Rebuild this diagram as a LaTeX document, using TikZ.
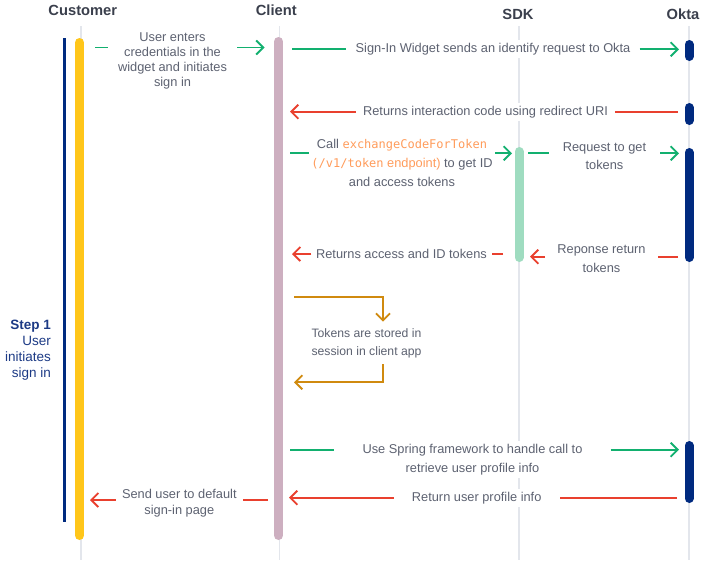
\documentclass[tikz,border=0pt]{standalone}
\usepackage{fontspec}
\setmainfont{Liberation Sans}
\setmonofont{DejaVu Sans Mono}
\usepackage{xcolor}
\usepackage{tikz}
\usetikzlibrary{arrows.meta}
\definecolor{ink}{HTML}{5D6271}
\definecolor{head}{HTML}{3A3F4C}
\definecolor{navy}{HTML}{002A7F}
\definecolor{stepc}{HTML}{1C3A85}
\definecolor{gold}{HTML}{FFC61A}
\definecolor{mauve}{HTML}{CDAFC0}
\definecolor{mint}{HTML}{9FDCC0}
\definecolor{lifec}{HTML}{E3E6EC}
\definecolor{go}{HTML}{12B06F}
\definecolor{back}{HTML}{E9402E}
\definecolor{loopc}{HTML}{D08A0F}
\definecolor{code}{HTML}{FF9C5B}
\newcommand{\cdtxt}[1]{\textcolor{code}{\ttfamily\fontsize{12}{17}\selectfont #1}}
\tikzset{
  actor/.style={text=head, font=\fontsize{14.7}{17}\selectfont\bfseries, inner sep=0pt},
  lifel/.style={draw=lifec, line width=1.8pt},
  bar/.style={line width=9pt, line cap=round},
  msg/.style={text=ink, font=\fontsize{12.8}{17}\selectfont, align=center, fill=white, inner ysep=3pt},
  stepn/.style={text=stepc, font=\fontsize{13.5}{15.8}\selectfont, align=right, inner sep=0pt},
  tip/.style={-{Straight Barb[length=7pt,width=14pt]}},
  req/.style={draw=go, line width=1.9pt},
  res/.style={draw=back, line width=1.9pt},
  own/.style={draw=loopc, line width=1.9pt},
}

\begin{document}
\begin{tikzpicture}[x=1pt,y=-1pt]
  \useasboundingbox (0,0) rectangle (725,560);
  % lifelines and headers
  \foreach \N/\x/\T/\hx/\hy in {cu/80.7/Customer/82.8/10, cl/279.5/Client/276.3/10,
                                sd/519/SDK/518/14, ok/689/Okta/683/14} {
    \node[actor] (\N) at (\hx,\hy) {\T};
    \coordinate (\N l) at (\x,26);
    \draw[lifel] (\N l) -- (\x,560);
  }
  % activation bars
  \foreach \x/\a/\b/\c in {79.5/38/540/gold, 278.5/37/540/mauve, 519/147/262/mint,
                           689/40/61/navy, 689/103/125/navy, 689/148/262/navy, 689/441/503/navy}
    \draw[bar, draw=\c] (\x,\a+4.5) -- (\x,\b-4.5);
  % step
  \draw[draw=navy, line width=3pt] (64,38) -- (64,522);
  \node[stepn, anchor=east] (step) at (51,350.2) {\textbf{Step 1}\\User\\initiates\\sign in};

  % user -> client
  \coordinate (a1) at (95,47.5);
  \coordinate (b1) at (264.5,47.5);
  \node[msg, inner xsep=10pt, font={\fontsize{12.8}{15}\selectfont}] (t1) at (172.5,60.8)
    {User enters\\credentials in the\\widget and initiates\\sign in};
  \draw[req] (a1) -- (a1 -| t1.west);
  \draw[req, tip] (b1 -| t1.east) -- (b1);

  % client -> okta
  \coordinate (a2) at (292,49.3);
  \coordinate (b2) at (679,49.3);
  \node[msg, inner xsep=9pt] (t2) at (493,49.3) {Sign-In Widget sends an identify request to Okta};
  \draw[req] (a2) -- (a2 -| t2.west);
  \draw[req, tip] (b2 -| t2.east) -- (b2);

  % okta -> client
  \coordinate (a3) at (678,111.7);
  \coordinate (b3) at (290,111.7);
  \node[msg, inner xsep=7pt] (t3) at (485.5,111.7) {Returns interaction code using redirect URI};
  \draw[res] (a3) -- (a3 -| t3.east);
  \draw[res, tip] (b3 -| t3.west) -- (b3);

  % client -> sdk
  \coordinate (a4) at (290,153.3);
  \coordinate (b4) at (512,153.3);
  \node[msg, inner xsep=2.5pt, font={\fontsize{12.8}{19}\selectfont}] (t4) at (402,163)
    {Call \cdtxt{exchangeCodeForToken}\\\cdtxt{(/v1/token} \textcolor{code}{endpoint)} to get ID\\and access tokens};
  \draw[req] (a4) -- (a4 -| t4.west);
  \draw[req, tip] (b4 -| t4.east) -- (b4);

  % sdk -> okta
  \coordinate (a5) at (528,153.3);
  \coordinate (b5) at (679,153.3);
  \node[msg, inner xsep=14pt, font={\fontsize{12.8}{18.3}\selectfont}] (t5) at (604.5,156)
    {Request to get\\tokens};
  \draw[req] (a5) -- (a5 -| t5.west);
  \draw[req, tip] (b5 -| t5.east) -- (b5);

  % sdk -> client
  \coordinate (a6) at (503,254);
  \coordinate (b6) at (292,254);
  \node[msg, inner xsep=4.5pt] (t6) at (401.5,253.5) {Returns access and ID tokens};
  \draw[res] (a6) -- (a6 -| t6.east);
  \draw[res, tip] (b6 -| t6.west) -- (b6);

  % okta -> sdk
  \coordinate (a7) at (678,256.7);
  \coordinate (b7) at (530,256.7);
  \node[msg, inner xsep=12pt, font={\fontsize{12.8}{18.7}\selectfont}] (t7) at (601.5,258.5)
    {Reponse return\\tokens};
  \draw[res] (a7) -- (a7 -| t7.east);
  \draw[res, tip] (b7 -| t7.west) -- (b7);

  % client stores tokens
  \coordinate (l1) at (294,297.3);
  \coordinate (l2) at (383,321.7);
  \coordinate (l3) at (294,382.3);
  \coordinate (l4) at (383,364);
  \node[msg, font={\fontsize{12.2}{18.4}\selectfont}] (t8) at (366.5,343.5)
    {Tokens are stored in\\session in client app};
  \draw[own, tip] (l1) -| (l2);
  \draw[own, tip] (l4) |- (l3);

  % client -> okta, profile
  \coordinate (a9) at (290,449.7);
  \coordinate (b9) at (679,449.7);
  \node[msg, inner xsep=28pt, font={\fontsize{12.8}{19.5}\selectfont}] (t9) at (472.5,459.5)
    {Use Spring framework to handle call to\\retrieve user profile info};
  \draw[req] (a9) -- (a9 -| t9.west);
  \draw[req, tip] (b9 -| t9.east) -- (b9);

  % okta -> client
  \coordinate (a10) at (677,497.7);
  \coordinate (b10) at (289,497.7);
  \node[msg, inner xsep=18pt] (t10) at (476.7,497.7) {Return user profile info};
  \draw[res] (a10) -- (a10 -| t10.east);
  \draw[res, tip] (b10 -| t10.west) -- (b10);

  % client -> user
  \coordinate (a11) at (268,500);
  \coordinate (b11) at (90,500);
  \node[msg, inner xsep=6pt, font={\fontsize{12.8}{15.5}\selectfont}] (t11) at (179.3,503.4)
    {Send user to default\\sign-in page};
  \draw[res] (a11) -- (a11 -| t11.east);
  \draw[res, tip] (b11 -| t11.west) -- (b11);
\end{tikzpicture}
\end{document}
